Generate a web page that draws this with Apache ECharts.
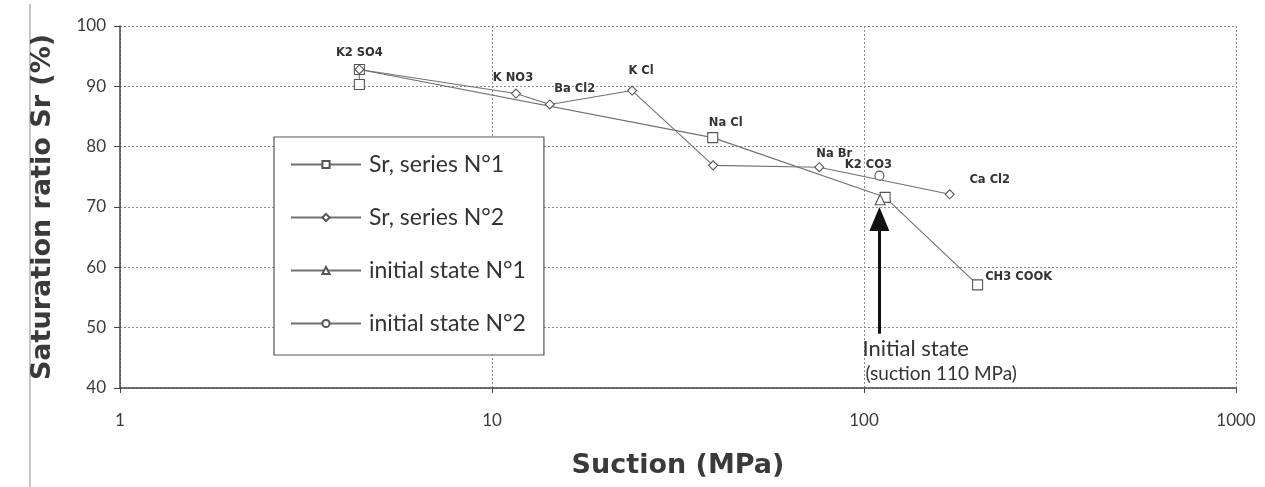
<!DOCTYPE html>
<html>
<head>
<meta charset="utf-8">
<script src="https://cdn.jsdelivr.net/npm/echarts@6/dist/echarts.min.js"></script>
<style>
  html, body { margin: 0; padding: 0; background: #fff; }
  #chart { width: 1265px; height: 487px; }
</style>
</head>
<body>
<div id="chart"></div>
<script>
// suction (MPa) / saturation ratio Sr (%)
const series1Suction = [4.4, 4.4, 39.2, 114, 202]
const series1Sr = [90.3, 92.8, 81.5, 71.6, 57.1]
const series1Labels = ['', '', 'Na Cl', '', 'CH3 COOK']

const series2Suction = [4.4, 11.6, 14.3, 23.8, 39.3, 75.8, 170]
const series2Sr = [92.8, 88.8, 87.0, 89.3, 76.9, 76.6, 72.1]
const series2Labels = ['K2 SO4', 'K NO3', 'Ba Cl2', 'K Cl', '', 'Na Br', 'Ca Cl2']

const init1Suction = [110.5]
const init1Sr = [71.2]
const init1Labels = ['']

const init2Suction = [110]
const init2Sr = [75.2]
const init2Labels = ['K2 CO3']

const seriesNames = ['Sr, series N°1', 'Sr, series N°2', 'initial state N°1', 'initial state N°2']
const yTicks = [40, 50, 60, 70, 80, 90, 100]
const xTicks = [1, 10, 100, 1000]

const font = 'Lato, "Open Sans", sans-serif'
const boldFont = '"DejaVu Sans", Lato, sans-serif'
const lineColor = '#707070'

// where each salt label sits relative to its point
const labelPlace = {
  'K2 SO4': { position: 'top', distance: 5, offset: [0, 0] },
  'K NO3': { position: 'top', distance: 5, offset: [-3, 0] },
  'Ba Cl2': { position: 'top', distance: 4, offset: [25, 0] },
  'K Cl': { position: 'top', distance: 8, offset: [9, 0] },
  'Na Cl': { position: 'top', distance: 3, offset: [13, 0] },
  'Na Br': { position: 'top', distance: 2, offset: [15, 0] },
  'K2 CO3': { position: 'top', distance: 0, offset: [-11, 0] },
  'Ca Cl2': { position: 'top', distance: 3, offset: [40, 0] },
  'CH3 COOK': { position: 'right', distance: 2, offset: [0, -8] }
}

function build(xs, ys, labels) {
  return xs.map((x, i) => {
    const item = { value: [x, ys[i]] }
    const name = labels[i]
    if (name) {
      const p = labelPlace[name]
      item.label = {
        show: true,
        formatter: name,
        position: p.position,
        distance: p.distance,
        offset: p.offset,
        fontFamily: boldFont,
        fontWeight: 'bold',
        fontSize: 11.5,
        color: '#333'
      }
    }
    return item
  })
}

function lineSeries(name, symbol, size, data) {
  return {
    name: name,
    type: 'line',
    data: data,
    symbol: symbol,
    symbolSize: size,
    showAllSymbol: true,
    lineStyle: { color: lineColor, width: 1.1 },
    itemStyle: { color: '#fff', borderColor: '#555', borderWidth: 1.1 },
    label: { show: false },
    emphasis: { disabled: true },
    z: 3
  }
}

const mychart = echarts.init(document.getElementById('chart'))

const tickLabel = { fontFamily: font, fontSize: 17, color: '#3a3a3a' }
const gridLine = { show: true, lineStyle: { color: '#8c8c8c', type: [2, 2], width: 1 } }

const arrowSeries = lineSeries(seriesNames[2], 'triangle', 10, build(init1Suction, init1Sr, init1Labels))
arrowSeries.markLine = {
  silent: true,
  animation: false,
  symbol: ['none', 'triangle'],
  symbolSize: [20, 24],
  lineStyle: { color: '#111', width: 3, type: 'solid' },
  label: { show: false },
  data: [[{ coord: [110, 49.0] }, { coord: [110, 68.0] }]]
}

const option = {
  animation: false,
  backgroundColor: '#fff',
  grid: { left: 120, right: 29, top: 26, bottom: 99 },
  legend: {
    orient: 'vertical',
    left: 274,
    top: 137,
    padding: [16, 18, 20, 16],
    itemGap: 30,
    itemWidth: 70,
    itemHeight: 9,
    backgroundColor: '#fff',
    borderColor: '#555',
    borderWidth: 1.2,
    textStyle: { fontFamily: font, fontSize: 23, lineHeight: 23, color: '#333', padding: [0, 0, 0, 3] },
    data: seriesNames
  },
  xAxis: {
    type: 'log',
    logBase: 10,
    min: xTicks[0],
    max: xTicks[xTicks.length - 1],
    name: 'Suction (MPa)',
    nameLocation: 'middle',
    nameGap: 64,
    nameTextStyle: { fontFamily: boldFont, fontSize: 27, fontWeight: 'bold', color: '#3a3a3a' },
    axisLine: { show: true, onZero: false, lineStyle: { color: '#444', width: 1.5 } },
    axisTick: { show: true, length: 5, lineStyle: { color: '#444' } },
    minorTick: { show: false },
    axisLabel: Object.assign({ margin: 24, formatter: v => String(v) }, tickLabel),
    splitLine: gridLine
  },
  yAxis: {
    type: 'value',
    min: yTicks[0],
    max: yTicks[yTicks.length - 1],
    interval: 10,
    name: 'Saturation ratio Sr (%)',
    nameLocation: 'middle',
    nameGap: 64,
    nameTextStyle: { fontFamily: boldFont, fontSize: 27, fontWeight: 'bold', color: '#3a3a3a' },
    axisLine: { show: true, lineStyle: { color: '#444', width: 1.5 } },
    axisTick: { show: true, length: 6, lineStyle: { color: '#444' } },
    axisLabel: Object.assign({ margin: 14 }, tickLabel),
    splitLine: gridLine
  },
  series: [
    lineSeries(seriesNames[0], 'rect', 10, build(series1Suction, series1Sr, series1Labels)),
    lineSeries(seriesNames[1], 'diamond', 9, build(series2Suction, series2Sr, series2Labels)),
    arrowSeries,
    lineSeries(seriesNames[3], 'circle', 9, build(init2Suction, init2Sr, init2Labels))
  ]
}
mychart.setOption(option, true)

// annotation text under the arrow + scan edge
const base = mychart.convertToPixel({ gridIndex: 0 }, [110, 49.0])
mychart.setOption({
  graphic: [
    { type: 'line', shape: { x1: 30, y1: 4, x2: 30, y2: 487 }, style: { stroke: '#c4c4c4', lineWidth: 2 } },
    { type: 'text', x: base[0] - 17, y: base[1] + 15, style: { text: 'Initial state', font: '22px ' + font, fill: '#333', textVerticalAlign: 'middle' } },
    { type: 'text', x: base[0] - 14, y: base[1] + 40, style: { text: '(suction 110 MPa)', font: '19px ' + font, fill: '#333', textVerticalAlign: 'middle' } }
  ]
})
</script>
</body>
</html>
